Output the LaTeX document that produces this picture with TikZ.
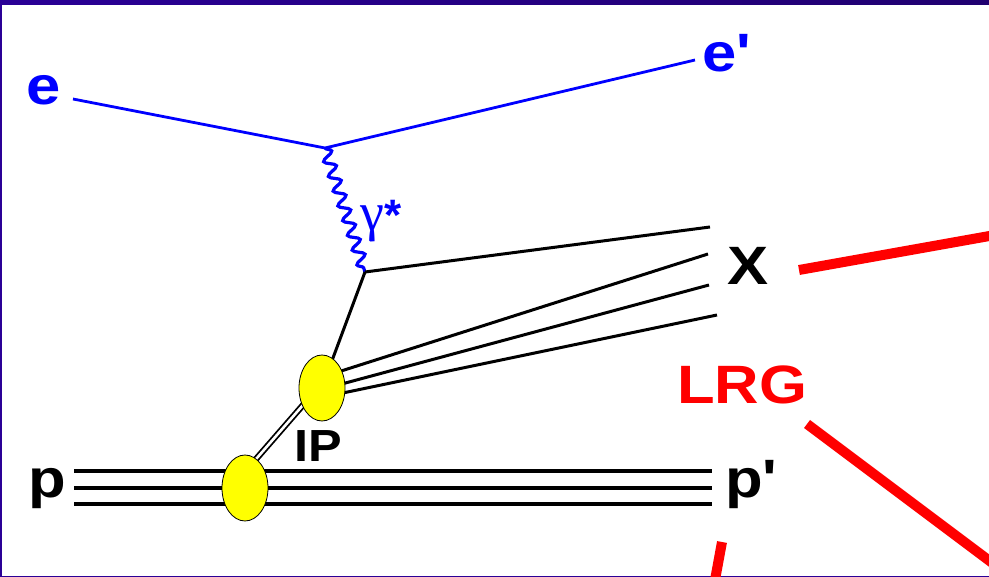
\documentclass[tikz,border=0pt]{standalone}
\usepackage{fontspec}
\setmainfont{Liberation Sans}
\newfontfamily\gfont{Liberation Serif}
\usetikzlibrary{decorations.pathmorphing,shapes.geometric}
\definecolor{frameA}{RGB}{42,0,150}
\definecolor{frameB}{RGB}{32,0,112}
\definecolor{elec}{RGB}{0,0,255}
\definecolor{lrgred}{RGB}{255,0,0}
\definecolor{blobyel}{RGB}{255,255,0}
\tikzset{
  lbl/.style={inner sep=0pt, anchor=base west, xscale=1.14, font=\bfseries\fontsize{54}{60}\selectfont},
  eline/.style={draw=elec, line width=2.8pt},
  qline/.style={draw=black, line width=3pt},
  pline/.style={draw=black, line width=3.2pt},
  photon/.style={draw=elec, line width=3.2pt, decorate, decoration={snake, segment length=15.5pt, amplitude=5.5pt}},
  blob/.style={ellipse, draw=black, line width=0.8pt, fill=blobyel, minimum width=46pt, minimum height=66pt, inner sep=0pt},
  gap/.style={draw=lrgred, line width=10pt},
}
\begin{document}
\begin{tikzpicture}[x=1pt,y=-1pt]
\useasboundingbox (0,0) rectangle (989,577);
\clip (0,0) rectangle (989,577);
% frame
\shade[left color=frameA, right color=frameB] (0,0) rectangle (989,5);
\draw[frameA, line width=1.5pt] (0.75,0) -- (0.75,577);
\draw[frameA, line width=1.5pt] (0,576.25) -- (989,576.25);

% coordinates
\coordinate (ein) at (73,99);
\coordinate (evx) at (325,148);
\coordinate (eout) at (695,60);
\coordinate (qvx) at (365,272);
\coordinate (x1) at (710,227);
\coordinate (pomtop) at (330,366);
\coordinate (s2) at (338,372);
\coordinate (s3) at (338,385);
\coordinate (s4) at (338,394);
\coordinate (x2) at (708,254);
\coordinate (x3) at (709,285);
\coordinate (x4) at (717,315);
\coordinate (da) at (250,466);
\coordinate (db) at (310,397);
\coordinate (pa1) at (74,471); \coordinate (pb1) at (712,471);
\coordinate (pa2) at (74,488); \coordinate (pb2) at (712,488);
\coordinate (pa3) at (74,504); \coordinate (pb3) at (712,504);

% electron
\draw[eline] (ein) -- (evx) -- (eout);
\draw[photon] (evx) -- (qvx);
% quark lines
\draw[qline] (qvx) -- (x1);
\draw[qline] (qvx) -- (pomtop);
\draw[qline] (s2) -- (x2);
\draw[qline] (s3) -- (x3);
\draw[qline] (s4) -- (x4);
% pomeron double line
\draw[draw=black, line width=1.8pt, double=white, double distance=2.6pt] (da) -- (db);
% proton lines
\draw[pline] (pa1) -- (pb1);
\draw[pline] (pa2) -- (pb2);
\draw[pline] (pa3) -- (pb3);
% blobs
\node[blob] (pom) at (322,388) {};
\node[blob] (pvx) at (245,488) {};

% labels
\node[lbl, text=elec] (le) at (26,105) {e};
\node[lbl, text=elec] (leo) at (702,72) {e\textquotesingle};
\node[lbl] (lp) at (28,497) {p};
\node[lbl] (lpo) at (725,497) {p\textquotesingle};
\node[lbl] (lx) at (727,285) {X};
\node[lbl, text=lrgred] (lrg) at (677,404) {LRG};
\node[inner sep=0pt, anchor=base west, xscale=1.12, font=\bfseries\fontsize{45}{50}\selectfont] (lip) at (294,461) {IP};
\node[inner sep=0pt, anchor=base west, text=elec] (lgam) at (360,231) {{\gfont\fontsize{54}{60}\selectfont γ}{\bfseries\fontsize{44}{50}\selectfont *}};

% rapidity gap markers
\coordinate (r1a) at (799,270); \coordinate (r1b) at (995,235);
\coordinate (r2a) at (807,424); \coordinate (r2b) at (995,565);
\coordinate (r3a) at (722,542); \coordinate (r3b) at (715,580);
\draw[gap] (r1a) -- (r1b);
\draw[gap] (r2a) -- (r2b);
\draw[gap] (r3a) -- (r3b);
\end{tikzpicture}
\end{document}
